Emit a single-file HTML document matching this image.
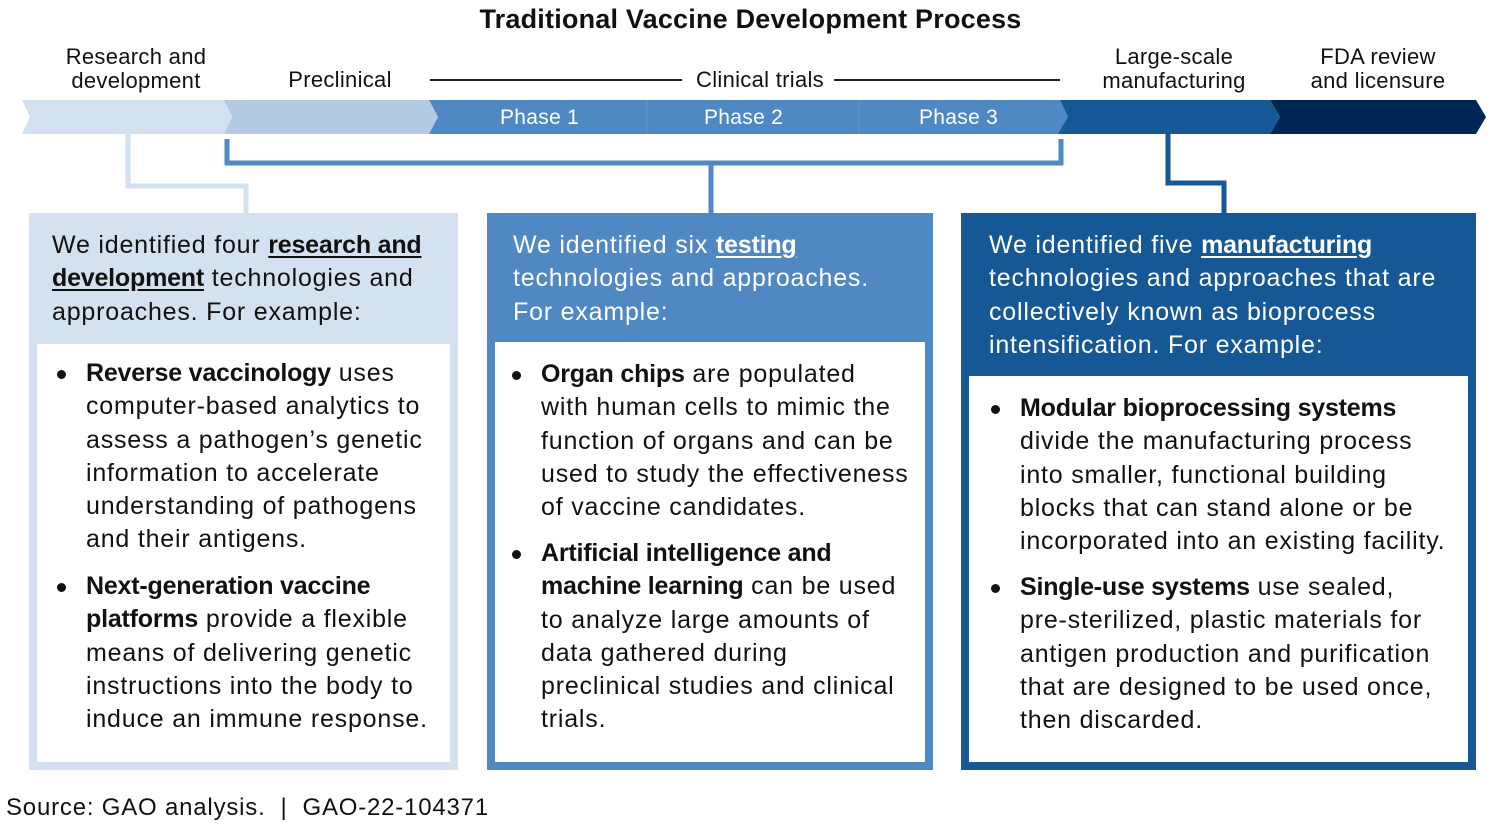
<!DOCTYPE html>
<html><head><meta charset="utf-8"><style>
body{margin:0;width:1501px;height:826px;background:#fff;font-family:"Liberation Sans",sans-serif;position:relative;overflow:hidden;color:#111}
.a{position:absolute;white-space:nowrap}
.t{font-size:25px;line-height:33.3px;letter-spacing:0.8px}
.c{text-align:center;font-size:22px;line-height:24px;letter-spacing:0.3px}
.bl{position:absolute;white-space:nowrap;font-size:25px;line-height:33.3px;letter-spacing:0.8px}
.bl:before{content:"";position:absolute;left:-29px;top:13px;width:9px;height:9px;border-radius:50%;background:#111}
b{letter-spacing:-0.2px}
u{text-underline-offset:3px}
</style></head><body>
<div class="a" style="left:0;width:1501px;top:4px;text-align:center;font-size:27px;font-weight:bold;letter-spacing:0.2px">Traditional Vaccine Development Process</div>
<div class="a c" style="left:36px;width:200px;top:45px">Research and<br>development</div>
<div class="a c" style="left:240px;width:200px;top:68px">Preclinical</div>
<div class="a" style="left:430px;top:79px;width:252px;height:2px;background:#222"></div>
<div class="a c" style="left:688px;width:144px;top:68px">Clinical trials</div>
<div class="a" style="left:834px;top:79px;width:226px;height:2px;background:#222"></div>
<div class="a c" style="left:1074px;width:200px;top:45px">Large-scale<br>manufacturing</div>
<div class="a c" style="left:1278px;width:200px;top:45px">FDA review<br>and licensure</div>
<svg class="a" style="left:0;top:0" width="1501" height="826">
<polygon points="22,100 224,100 232,117 224,134 22,134 30,117" fill="#d4e1f0"/>
<polygon points="224,100 429,100 438,117 429,134 224,134 232,117" fill="#b4cbe4"/>
<polygon points="429,100 1060,100 1068,117 1060,134 429,134 438,117" fill="#5088c4"/>
<polygon points="1060,100 1270,100 1280,117 1270,134 1058,134 1068,117" fill="#155895"/>
<polygon points="1270,100 1476,100 1486,117 1476,134 1270,134 1280,117" fill="#002654"/>
<line x1="647" y1="100" x2="647" y2="134" stroke="#6d9ad0" stroke-width="0.7"/>
<line x1="859" y1="100" x2="859" y2="134" stroke="#6d9ad0" stroke-width="0.7"/>
<polyline points="128,134 128,186 246,186 246,213" fill="none" stroke="#d4e1f0" stroke-width="5"/>
<polyline points="227,139 227,163 1061,163 1061,139" fill="none" stroke="#5088c4" stroke-width="5"/>
<line x1="711" y1="163" x2="711" y2="213" stroke="#5088c4" stroke-width="5"/>
<polyline points="1168,134 1168,183 1224,183 1224,213" fill="none" stroke="#155895" stroke-width="5"/>
</svg>
<div class="a" style="left:500px;top:106px;font-size:21px;color:#fff;letter-spacing:0.3px">Phase 1</div>
<div class="a" style="left:704px;top:106px;font-size:21px;color:#fff;letter-spacing:0.3px">Phase 2</div>
<div class="a" style="left:919px;top:106px;font-size:21px;color:#fff;letter-spacing:0.3px">Phase 3</div>

<div class="a" style="left:29px;top:213px;width:429px;height:557px;background:#d4e1f0"></div>
<div class="a" style="left:37px;top:344px;width:413px;height:418px;background:#fff"></div>
<div class="a t" style="left:52px;top:229px">We identified four <b><u>research and</u></b><br><b><u>development</u></b> technologies and<br>approaches. For example:</div>
<div class="bl" style="left:86px;top:357px"><b>Reverse vaccinology</b> uses<br>computer-based analytics to<br>assess a pathogen’s genetic<br>information to accelerate<br>understanding of pathogens<br>and their antigens.</div>
<div class="bl" style="left:86px;top:570px"><b>Next-generation vaccine<br>platforms</b> provide a flexible<br>means of delivering genetic<br>instructions into the body to<br>induce an immune response.</div>

<div class="a" style="left:487px;top:213px;width:446px;height:557px;background:#5088c4"></div>
<div class="a" style="left:495px;top:342px;width:430px;height:420px;background:#fff"></div>
<div class="a t" style="left:513px;top:229px;color:#fff">We identified six <b><u>testing</u></b><br>technologies and approaches.<br>For example:</div>
<div class="bl" style="left:541px;top:358px"><b>Organ chips</b> are populated<br>with human cells to mimic the<br>function of organs and can be<br>used to study the effectiveness<br>of vaccine candidates.</div>
<div class="bl" style="left:541px;top:537px"><b>Artificial intelligence and<br>machine learning</b> can be used<br>to analyze large amounts of<br>data gathered during<br>preclinical studies and clinical<br>trials.</div>

<div class="a" style="left:961px;top:213px;width:515px;height:557px;background:#155895"></div>
<div class="a" style="left:969px;top:376px;width:499px;height:386px;background:#fff"></div>
<div class="a t" style="left:989px;top:229px;color:#fff">We identified five <b><u>manufacturing</u></b><br>technologies and approaches that are<br>collectively known as bioprocess<br>intensification. For example:</div>
<div class="bl" style="left:1020px;top:392px"><b>Modular bioprocessing systems</b><br>divide the manufacturing process<br>into smaller, functional building<br>blocks that can stand alone or be<br>incorporated into an existing facility.</div>
<div class="bl" style="left:1020px;top:571px"><b>Single-use systems</b> use sealed,<br>pre-sterilized, plastic materials for<br>antigen production and purification<br>that are designed to be used once,<br>then discarded.</div>

<div class="a" style="left:6px;top:794px;font-size:24px;letter-spacing:0.8px">Source: GAO analysis.&nbsp; |&nbsp; GAO-22-104371</div>
</body></html>
